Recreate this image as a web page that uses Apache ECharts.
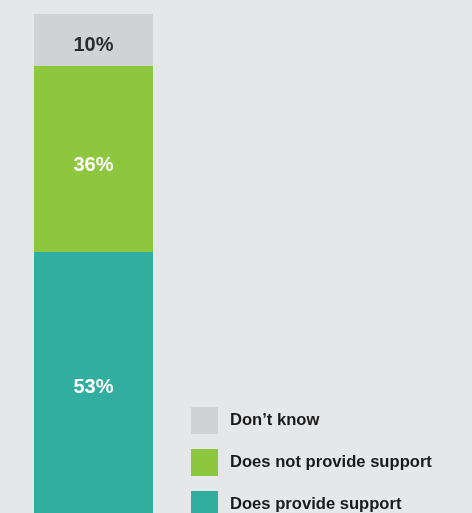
<!DOCTYPE html>
<html>
<head>
<meta charset="utf-8">
<script src="https://cdn.jsdelivr.net/npm/echarts@6/dist/echarts.min.js"></script>
<style>
  html, body { margin: 0; padding: 0; background: #e6e7e9; }
  #chart { width: 472px; height: 513px; }
</style>
</head>
<body>
<div id="chart"></div>
<script>
// Single stacked column: share of respondents by answer
const categories = ['All'];
const seriesNames = ['Does provide support', 'Does not provide support', 'Don’t know'];
const provideSupport = [53];
const notProvideSupport = [36];
const dontKnow = [10];
const legendOrder = ['Don’t know', 'Does not provide support', 'Does provide support'];

const colors = {
  'Does provide support': '#31ae9f',
  'Does not provide support': '#8dc63f',
  'Don’t know': '#d1d2d4'
};
const labelColors = {
  'Does provide support': '#ffffff',
  'Does not provide support': '#ffffff',
  'Don’t know': '#2b2b2b'
};
const labelOffsets = {
  'Does provide support': [0, -1],
  'Does not provide support': [0, 7],
  'Don’t know': [0, 6]
};
const values = [provideSupport, notProvideSupport, dontKnow];
const total = provideSupport[0] + notProvideSupport[0] + dontKnow[0];

const chart = echarts.init(document.getElementById('chart'));
chart.setOption({
  backgroundColor: '#e6e7e9',
  animation: false,
  // column runs past the bottom edge of the canvas
  grid: { left: 34, top: 14, width: 119, height: 512, outerBoundsMode: 'none', containLabel: false },
  xAxis: { type: 'category', data: categories, show: false },
  yAxis: { type: 'value', min: 0, max: total, show: false },
  legend: {
    orient: 'vertical',
    left: 191,
    top: 407,
    height: 200,
    padding: 0,
    itemWidth: 27,
    itemHeight: 27,
    itemGap: 15,
    icon: 'rect',
    data: legendOrder,
    textStyle: {
      fontFamily: 'Liberation Sans, Arial, sans-serif',
      fontWeight: 'bold',
      fontSize: 16.6,
      color: '#1a1a1a',
      padding: [0, 0, 0, 7]
    }
  },
  series: seriesNames.map((name, i) => ({
    name: name,
    type: 'bar',
    stack: 'total',
    barWidth: '100%',
    data: values[i],
    itemStyle: { color: colors[name] },
    label: {
      show: true,
      position: 'inside',
      offset: labelOffsets[name],
      formatter: '{c}%',
      fontFamily: 'Liberation Sans, Arial, sans-serif',
      fontWeight: 'bold',
      fontSize: 20,
      color: labelColors[name]
    }
  }))
});
</script>
</body>
</html>
